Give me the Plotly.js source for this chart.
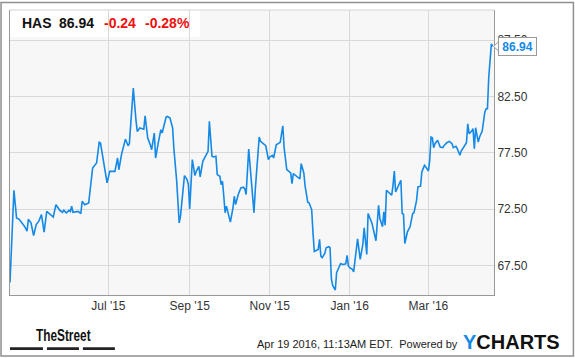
<!DOCTYPE html>
<html>
<head>
<meta charset="utf-8">
<script src="https://cdn.plot.ly/plotly-3.0.1.min.js"></script>
<style>
html,body{margin:0;padding:0;background:#fff;}
#chart{width:575px;height:358px;}
</style>
</head>
<body>
<div id="chart"></div>
<script>
const dates = [
'2015-04-17','2015-04-20','2015-04-22','2015-04-24','2015-04-27','2015-04-28','2015-04-30','2015-05-01','2015-05-03','2015-05-05',
'2015-05-07','2015-05-09','2015-05-11','2015-05-13','2015-05-15','2015-05-18','2015-05-20','2015-05-22','2015-05-25','2015-05-27',
'2015-05-28','2015-05-30','2015-06-01','2015-06-02','2015-06-03','2015-06-04','2015-06-08','2015-06-10','2015-06-11','2015-06-13',
'2015-06-16','2015-06-19','2015-06-22','2015-06-24','2015-06-25','2015-06-30','2015-07-02','2015-07-06','2015-07-08','2015-07-09',
'2015-07-11','2015-07-14','2015-07-16','2015-07-17','2015-07-20','2015-07-22','2015-07-23','2015-07-25','2015-07-27','2015-07-28',
'2015-07-29','2015-07-31','2015-08-02','2015-08-03','2015-08-05','2015-08-06','2015-08-08','2015-08-10','2015-08-11','2015-08-14',
'2015-08-15','2015-08-17','2015-08-19','2015-08-20','2015-08-22','2015-08-23','2015-08-24','2015-08-25','2015-08-27','2015-08-28',
'2015-08-30','2015-08-31','2015-09-01','2015-09-02','2015-09-03','2015-09-05','2015-09-06','2015-09-08','2015-09-09','2015-09-11',
'2015-09-13','2015-09-15','2015-09-16','2015-09-18','2015-09-19','2015-09-21','2015-09-22','2015-09-24','2015-09-25','2015-09-26',
'2015-09-27','2015-09-28','2015-09-29','2015-10-01','2015-10-02','2015-10-04','2015-10-05','2015-10-06','2015-10-08','2015-10-10',
'2015-10-12','2015-10-13','2015-10-14','2015-10-16','2015-10-18','2015-10-20','2015-10-21','2015-10-24','2015-10-25','2015-10-27',
'2015-10-29','2015-10-31','2015-11-01','2015-11-03','2015-11-04','2015-11-06','2015-11-08','2015-11-09','2015-11-11','2015-11-12',
'2015-11-14','2015-11-16','2015-11-17','2015-11-18','2015-11-19','2015-11-20','2015-11-22','2015-11-24','2015-11-25','2015-11-27',
'2015-11-28','2015-11-30','2015-12-01','2015-12-03','2015-12-04','2015-12-05','2015-12-06','2015-12-08','2015-12-09','2015-12-10',
'2015-12-11','2015-12-13','2015-12-14','2015-12-16','2015-12-17','2015-12-18','2015-12-19','2015-12-20','2015-12-21','2015-12-22',
'2015-12-24','2015-12-25','2015-12-27','2015-12-29','2015-12-30','2015-12-31','2016-01-01','2016-01-03','2016-01-04','2016-01-07',
'2016-01-09','2016-01-11','2016-01-12','2016-01-14','2016-01-15','2016-01-17','2016-01-18','2016-01-21','2016-01-23','2016-01-24',
'2016-01-26','2016-01-27','2016-01-28','2016-01-29','2016-01-31','2016-02-02','2016-02-03','2016-02-04','2016-02-05','2016-02-07',
'2016-02-09','2016-02-10','2016-02-11','2016-02-12','2016-02-13','2016-02-14','2016-02-16','2016-02-18','2016-02-19','2016-02-21',
'2016-02-22','2016-02-24','2016-02-25','2016-02-27','2016-02-28','2016-03-01','2016-03-02','2016-03-03','2016-03-04','2016-03-05',
'2016-03-06','2016-03-08','2016-03-10','2016-03-12','2016-03-13','2016-03-15','2016-03-17','2016-03-19','2016-03-20','2016-03-22',
'2016-03-23','2016-03-25','2016-03-26','2016-03-28','2016-03-30','2016-03-31','2016-04-01','2016-04-03','2016-04-04','2016-04-05',
'2016-04-06','2016-04-08','2016-04-09','2016-04-11','2016-04-13','2016-04-14','2016-04-15','2016-04-16','2016-04-17','2016-04-18',
'2016-04-19'
];
const prices = [
66.0,74.18,71.73,71.6,71.14,71.0,70.55,71.6,71.3,70.17,
71.14,71.44,72.03,70.46,72.3,72.0,71.8,72.9,72.4,72.23,
72.4,72.17,72.4,72.3,72.76,72.23,72.3,72.1,73.2,72.9,
73.06,76.16,76.6,78.43,78.37,74.83,75.86,75.86,77.04,76.0,
77.34,78.72,78.13,78.3,83.24,80.44,79.4,79.7,79.6,79.6,
80.79,78.81,78.2,77.78,79.26,77.04,78.37,79.55,79.26,80.67,
80.73,80.58,79.7,77.78,75.13,73.36,71.29,71.88,74.24,75.48,
75.13,74.68,72.53,75.13,76.9,75.48,75.86,76.3,75.36,76.75,
77.25,77.63,80.29,77.19,77.13,77.19,75.57,75.42,74.68,74.98,
73.65,72.18,72.77,71.88,71.35,72.62,73.65,72.91,73.8,74.39,
74.45,74.3,73.8,77.84,75.13,72.18,74.24,78.9,78.52,78.28,
78.13,76.9,77.13,77.28,77.04,78.22,78.37,78.43,79.9,77.93,
76.01,75.86,75.72,74.77,75.66,75.57,75.36,75.18,76.54,75.72,
74.54,73.12,73.06,72.47,70.41,68.75,68.81,68.93,69.82,68.34,
68.2,68.58,69.08,69.17,69.08,66.33,65.74,65.54,65.33,66.87,
67.51,67.66,67.6,67.66,68.4,67.46,67.31,67.16,66.95,69.87,
68.05,69.37,70.85,68.49,72.12,71.44,71.23,69.7,72.85,71.67,
70.94,72.26,71.08,74.18,73.95,73.74,74.62,75.89,74.03,74.62,
75.07,72.12,72.06,69.46,70.05,70.49,70.94,72.12,72.18,73.3,
74.48,74.54,75.8,76.39,76.25,75.89,76.84,78.9,78.84,77.96,
78.31,78.61,78.02,77.96,78.16,78.4,78.52,78.31,77.96,78.08,
77.87,77.28,77.66,78.02,78.4,80.08,79.2,79.43,79.64,77.87,
79.73,78.46,78.9,79.43,81.11,81.41,81.41,84.21,86.28,87.16,
86.94
];
const xTickDates = ['2015-07-01','2015-09-01','2015-11-01','2016-01-01','2016-03-01'];
const xTickLabels = ["Jul '15","Sep '15","Nov '15","Jan '16","Mar '16"];
const yTicks = [67.5, 72.5, 77.5, 82.5, 87.5];
const ticker = 'HAS';
const lastPrice = 86.94;
const change = '-0.24';
const changePct = '-0.28%';
const stamp = 'Apr 19 2016, 11:13AM EDT.  Powered by';

const W = 484.5, H = 285.5, L = 10, B = 295.5; // plot box in px
const px = x => (x - L) / W;
const py = y => (B - y) / H;

const blue = '#1589e6';
const font = 'Liberation Sans, Arial, sans-serif';

const trace = {
  x: dates, y: prices, type: 'scatter', mode: 'lines',
  line: {color: blue, width: 1.6}, hoverinfo: 'skip'
};

const shapes = [
  {type:'rect', xref:'paper', yref:'paper', x0:0, x1:px(200), y0:py(37), y1:1, fillcolor:'#ffffff', line:{width:0}, layer:'below'},
  {type:'line', xref:'paper', yref:'paper', x0:0, x1:1, y0:1, y1:1, line:{color:'#d4d4d4', width:1}},
  {type:'rect', xref:'paper', yref:'paper', x0:px(10), x1:px(43), y0:py(350.5), y1:py(347.8), fillcolor:'#222', line:{width:0}},
  {type:'rect', xref:'paper', yref:'paper', x0:px(47), x1:px(79), y0:py(350.5), y1:py(347.8), fillcolor:'#222', line:{width:0}},
  {type:'rect', xref:'paper', yref:'paper', x0:px(83), x1:px(115), y0:py(350.5), y1:py(347.8), fillcolor:'#222', line:{width:0}},
  {type:'rect', xref:'paper', yref:'paper', x0:px(1), x1:px(574), y0:py(356.5), y1:py(2.5), line:{color:'#8f8f8f', width:1.5}, fillcolor:'rgba(0,0,0,0)'},
  {type:'path', xref:'paper', xsizemode:'pixel', xanchor:1, yref:'y', ysizemode:'pixel', yanchor:lastPrice,
   path:'M 5 5 L -0.5 0 L 5 -5 Z', fillcolor:'#fff', line:{color:'#999', width:1}}
];

const hdrY = 23.3;
const annotations = [
  {xref:'paper', yref:'paper', x:0, y:1, xanchor:'left', yanchor:'middle', xshift:10, yshift:-(hdrY-10), showarrow:false,
   text:ticker, font:{family:font, size:14, color:'#111', weight:'bold'}},
  {xref:'paper', yref:'paper', x:0, y:1, xanchor:'left', yanchor:'middle', xshift:47, yshift:-(hdrY-10), showarrow:false,
   text:lastPrice.toFixed(2), font:{family:font, size:14, color:'#111', weight:'bold'}},
  {xref:'paper', yref:'paper', x:0, y:1, xanchor:'left', yanchor:'middle', xshift:92, yshift:-(hdrY-10), showarrow:false,
   text:change, font:{family:font, size:14, color:'#f01010', weight:'bold'}},
  {xref:'paper', yref:'paper', x:0, y:1, xanchor:'left', yanchor:'middle', xshift:133, yshift:-(hdrY-10), showarrow:false,
   text:changePct, font:{family:font, size:14, color:'#f01010', weight:'bold'}},
  {xref:'paper', yref:'y', x:1, y:lastPrice, xanchor:'left', yanchor:'middle', xshift:3.5, showarrow:false,
   text:lastPrice.toFixed(2), font:{family:font, size:12, color:blue, weight:'bold'},
   bgcolor:'#fff', bordercolor:'#999', borderwidth:1, borderpad:1, width:35, height:15},
  {xref:'paper', yref:'paper', x:0, y:0, xanchor:'left', yanchor:'middle', xshift:24, yshift:-(336-B), showarrow:false,
   text:'TheStreet', font:{family:font, size:16, color:'#111', weight:'bold'}},
  {xref:'paper', yref:'paper', x:0, y:0, xanchor:'right', yanchor:'middle', xshift:450, yshift:-(344.5-B), showarrow:false,
   text:stamp.replace('  ', '&nbsp; '), font:{family:font, size:11, color:'#222'}},
  {xref:'paper', yref:'paper', x:0, y:0, xanchor:'left', yanchor:'middle', xshift:451, yshift:-(342-B), showarrow:false,
   text:'<span style="color:'+blue+'">Y</span>CHARTS', font:{family:font, size:20, color:'#111', weight:'bold'}}
];

const layout = {
  width: 575, height: 358,
  margin: {l: L, r: 575 - L - W, t: 10, b: 358 - B, pad: 0},
  paper_bgcolor: '#fff', plot_bgcolor: '#f7f7f7',
  showlegend: false,
  font: {family: font, size: 12, color: '#333'},
  xaxis: {
    type: 'date', range: ['2015-04-17', '2016-04-20'],
    tickvals: xTickDates, ticktext: xTickLabels, ticks: '',
    showgrid: true, gridcolor: '#d9d9d9', gridwidth: 1, zeroline: false,
    showline: true, linecolor: '#999', linewidth: 1,
    tickfont: {family: font, size: 12, color: '#333'}, fixedrange: true
  },
  yaxis: {
    side: 'right', range: [64.89, 90.17],
    tickvals: yTicks, ticktext: yTicks.map(v => v.toFixed(2)), ticks: '',
    showgrid: true, gridcolor: '#d9d9d9', gridwidth: 1, zeroline: false,
    showline: true, linecolor: '#999', linewidth: 1, mirror: true,
    tickfont: {family: font, size: 12, color: '#333'}, fixedrange: true
  },
  shapes: shapes,
  annotations: annotations
};

Plotly.newPlot('chart', [trace], layout, {displayModeBar: false, staticPlot: true}).then(function () {
  // condense the "TheStreet" wordmark horizontally (the original uses a narrow face)
  document.querySelectorAll('.annotation-text').forEach(function (el) {
    if (el.textContent === 'TheStreet') {
      const bb = el.getBBox();
      const x0 = bb.x;
      const prev = el.getAttribute('transform') || '';
      el.setAttribute('transform', prev + ' translate(' + x0 + ',0) scale(0.74,1) translate(' + (-x0) + ',0)');
    }
  });
});
</script>
</body>
</html>
